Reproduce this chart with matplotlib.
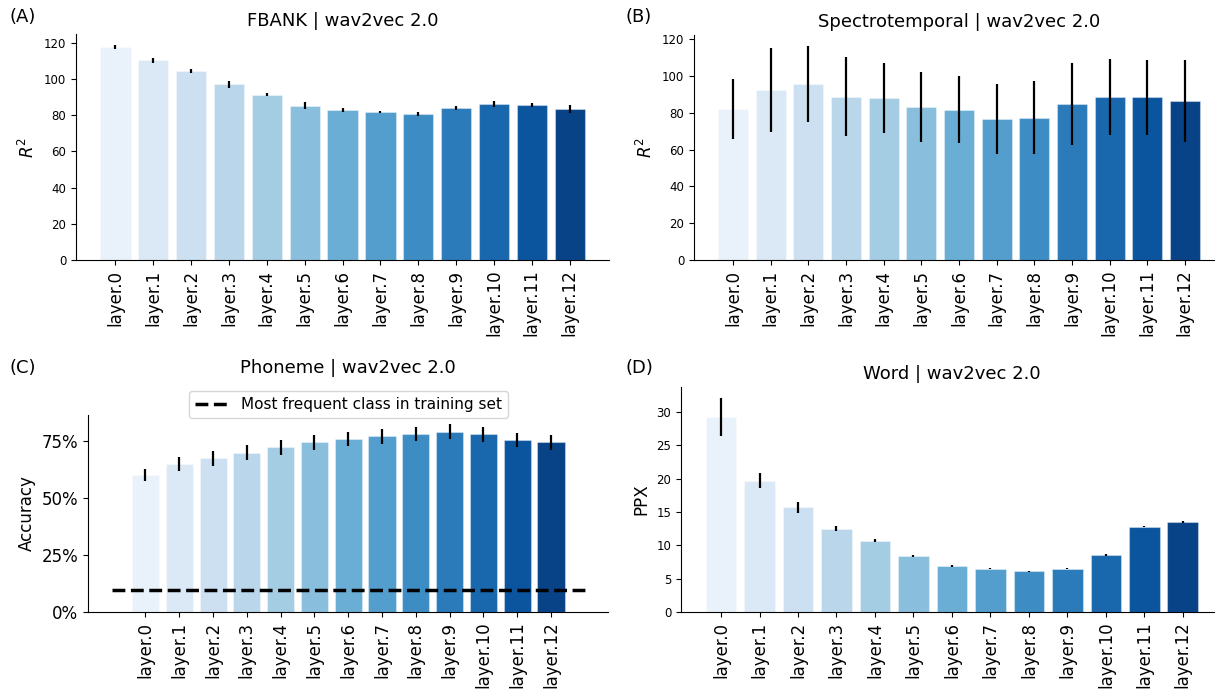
import numpy as np
import matplotlib
matplotlib.use('Agg')
import matplotlib.pyplot as plt
from matplotlib.ticker import PercentFormatter

layers = ['layer.{}'.format(i) for i in range(13)]

fbank_r2 = [117.8, 110.4, 104.3, 97.0, 91.4, 85.3, 82.7, 81.8, 80.7, 83.8, 86.1, 85.5, 83.5]
fbank_err = [1.1, 1.4, 1.0, 1.7, 0.9, 2.1, 1.1, 0.4, 1.2, 1.1, 1.5, 1.0, 2.3]

spectro_r2 = [82.1, 92.4, 95.7, 88.8, 88.1, 83.2, 81.6, 76.7, 77.3, 85.0, 88.6, 88.4, 86.6]
spectro_err = [16.2, 22.9, 20.8, 21.4, 19.0, 19.0, 18.2, 18.9, 19.8, 22.3, 20.8, 20.3, 22.3]

phoneme_acc = [0.601, 0.648, 0.674, 0.698, 0.721, 0.743, 0.757, 0.769, 0.779, 0.790, 0.779, 0.753, 0.744]
phoneme_err = [0.026, 0.031, 0.033, 0.034, 0.031, 0.031, 0.031, 0.032, 0.031, 0.032, 0.032, 0.032, 0.032]
most_frequent = 0.098

word_ppx = [29.2, 19.7, 15.7, 12.5, 10.7, 8.4, 6.9, 6.5, 6.1, 6.5, 8.5, 12.8, 13.5]
word_err = [2.9, 1.1, 0.8, 0.4, 0.2, 0.1, 0.1, 0.1, 0.1, 0.1, 0.15, 0.05, 0.15]

colors = plt.cm.Blues(np.linspace(0, 1, 15)[1:-1])


def bar_panel(ax, values, errors, title, ylabel, ytick_size=8.5):
  x = np.arange(len(layers))
  ax.bar(x, values, width=0.8, color=colors, yerr=errors,
         edgecolor=(1, 1, 1, 0.35), linewidth=0.8,
         error_kw=dict(ecolor='black', elinewidth=1.6, capsize=0))
  ax.set_xticks(x)
  ax.set_xticklabels(layers, rotation=90, fontsize=12)
  ax.tick_params(axis='y', labelsize=ytick_size)
  ax.set_title(title, fontsize=13)
  ax.set_ylabel(ylabel, fontsize=12)
  ax.spines['top'].set_visible(False)
  ax.spines['right'].set_visible(False)


fig = plt.figure(figsize=(12.15, 6.91), dpi=100)

ax_a = fig.add_axes([0.0626, 0.6237, 0.4387, 0.3270])
ax_b = fig.add_axes([0.5712, 0.6237, 0.4362, 0.3256])
ax_c = fig.add_axes([0.0724, 0.1143, 0.4284, 0.2851])
ax_d = fig.add_axes([0.5605, 0.1143, 0.4460, 0.3256])

bar_panel(ax_a, fbank_r2, fbank_err, 'FBANK | wav2vec 2.0', '$R^2$')
bar_panel(ax_b, spectro_r2, spectro_err, 'Spectrotemporal | wav2vec 2.0', '$R^2$')
bar_panel(ax_c, phoneme_acc, phoneme_err, 'Phoneme | wav2vec 2.0', 'Accuracy', ytick_size=12)
bar_panel(ax_d, word_ppx, word_err, 'Word | wav2vec 2.0', 'PPX')

# chance line
ax_c.hlines(most_frequent, -1, 13, colors='black', linestyles='--', linewidth=2.5,
            label='Most frequent class in training set')
ax_c.yaxis.set_major_formatter(PercentFormatter(1.0, decimals=0))
ax_c.set_yticks([0, 0.25, 0.5, 0.75])
ax_c.set_title('Phoneme | wav2vec 2.0', fontsize=13, pad=30)
ax_c.legend(loc='lower center', bbox_to_anchor=(0.5, 0.985), borderaxespad=0,
            fontsize=11, handlelength=2.2)

for lbl, xx, yy in [('(A)', 0.008, 0.975), ('(B)', 0.515, 0.975),
                    ('(C)', 0.008, 0.468), ('(D)', 0.515, 0.468)]:
  fig.text(xx, yy, lbl, fontsize=13, va='center')

plt.savefig('out.png', dpi=100)
plt.close()
